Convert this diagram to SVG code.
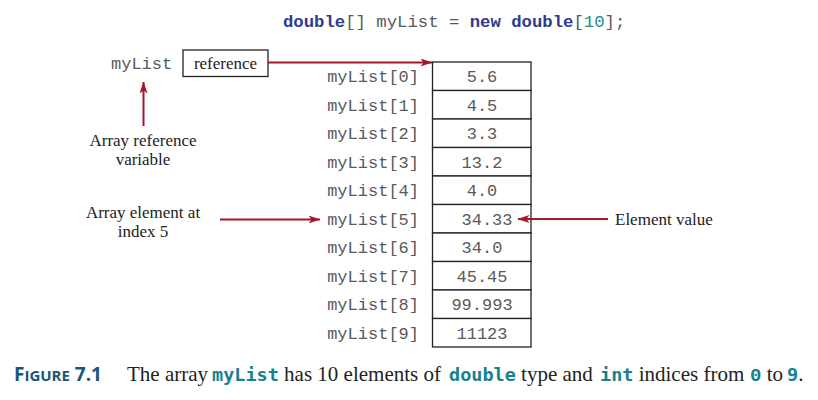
<svg xmlns="http://www.w3.org/2000/svg" width="818" height="400" viewBox="0 0 818 400">
<defs>
<marker id="ah" viewBox="0 0 12 8" refX="11.5" refY="4" markerWidth="12" markerHeight="8" markerUnits="userSpaceOnUse" orient="auto">
<path d="M0,0 L12,4 L0,8 L3,4 z" fill="#a3182d"/>
</marker>
<style>
.mono{font-family:"Liberation Mono","Courier New",monospace;font-size:17px;fill:#5a5a5a}
.serif{font-family:"Liberation Serif","Times New Roman",serif;font-size:17px;fill:#222}
.cell{fill:#fff;stroke:#222;stroke-width:1.3}
.arr{stroke:#a3182d;stroke-width:2;fill:none;marker-end:url(#ah)}
.kw{font-weight:bold;fill:#2e3b8f}
.num{fill:#1a8a94}
.cap{font-family:"Liberation Serif","Times New Roman",serif;font-size:21px;fill:#222}
.cc{font-family:"DejaVu Sans Mono",monospace;font-size:18.5px;fill:#17818f;font-weight:bold}
</style>
</defs>
<rect width="818" height="400" fill="#fff"/>

<g id="code">
<text class="mono" x="283" y="27" style="font-size:17.3px" xml:space="preserve"><tspan class="kw">double</tspan>[] myList = <tspan class="kw">new</tspan> <tspan class="kw">double</tspan>[<tspan class="num">10</tspan>];</text>
</g>

<g id="refvar">
<text class="mono" x="111" y="69">myList</text>
<rect class="cell" x="183" y="50" width="85" height="26.5"/>
<text class="serif" x="225.5" y="68.5" text-anchor="middle">reference</text>
</g>

<g id="label-refvar">
<text class="serif" x="143" y="146" text-anchor="middle">Array reference</text>
<text class="serif" x="143" y="165" text-anchor="middle">variable</text>
</g>

<g id="label-element">
<text class="serif" x="143" y="218" text-anchor="middle">Array element at</text>
<text class="serif" x="143" y="237" text-anchor="middle">index 5</text>
</g>

<g id="label-value">
<text class="serif" x="615" y="225">Element value</text>
</g>

<g id="array">
<rect class="cell" x="432.5" y="62" width="98.5" height="28.5"/>
<rect class="cell" x="432.5" y="90.5" width="98.5" height="28.5"/>
<rect class="cell" x="432.5" y="119" width="98.5" height="28.5"/>
<rect class="cell" x="432.5" y="147.5" width="98.5" height="28.5"/>
<rect class="cell" x="432.5" y="176" width="98.5" height="28.5"/>
<rect class="cell" x="432.5" y="204.5" width="98.5" height="28.5"/>
<rect class="cell" x="432.5" y="233" width="98.5" height="28.5"/>
<rect class="cell" x="432.5" y="261.5" width="98.5" height="28.5"/>
<rect class="cell" x="432.5" y="290" width="98.5" height="28.5"/>
<rect class="cell" x="432.5" y="318.5" width="98.5" height="28.5"/>
<g class="mono" text-anchor="end">
<text x="419" y="82">myList[0]</text>
<text x="419" y="110.5">myList[1]</text>
<text x="419" y="139">myList[2]</text>
<text x="419" y="167.5">myList[3]</text>
<text x="419" y="196">myList[4]</text>
<text x="419" y="224.5">myList[5]</text>
<text x="419" y="253">myList[6]</text>
<text x="419" y="281.5">myList[7]</text>
<text x="419" y="310">myList[8]</text>
<text x="419" y="338.5">myList[9]</text>
</g>
<g class="mono" text-anchor="middle">
<text x="482" y="82">5.6</text>
<text x="482" y="110.5">4.5</text>
<text x="482" y="139">3.3</text>
<text x="482" y="167.5">13.2</text>
<text x="482" y="196">4.0</text>
<text x="487" y="224.5">34.33</text>
<text x="482" y="253">34.0</text>
<text x="482" y="281.5">45.45</text>
<text x="482" y="310">99.993</text>
<text x="482" y="338.5">11123</text>
</g>
</g>

<g id="connectors">
<path class="arr" d="M268,62.5 H432"/>
<path class="arr" d="M143.5,126 V82"/>
<path class="arr" d="M220,219.5 H320"/>
<path class="arr" d="M608,219 H518"/>
</g>

<g id="caption">
<text x="14" y="381" font-family="'Open Sans','Liberation Sans',sans-serif" font-weight="bold" fill="#1a5577"><tspan font-size="19">F</tspan><tspan font-size="15">IGURE</tspan><tspan font-size="19"> 7.1</tspan></text>
<text class="cap" y="381" xml:space="preserve"><tspan x="127">The array </tspan><tspan class="cc" x="212">myList</tspan><tspan> has 10 elements of </tspan><tspan class="cc" x="449">double</tspan><tspan> type and </tspan><tspan class="cc" x="600">int</tspan><tspan> indices from </tspan><tspan class="cc" x="750" style="font-family:'Liberation Mono',monospace;font-size:19px">0</tspan><tspan> to </tspan><tspan class="cc" x="787">9</tspan><tspan>.</tspan></text>
</g>
</svg>
